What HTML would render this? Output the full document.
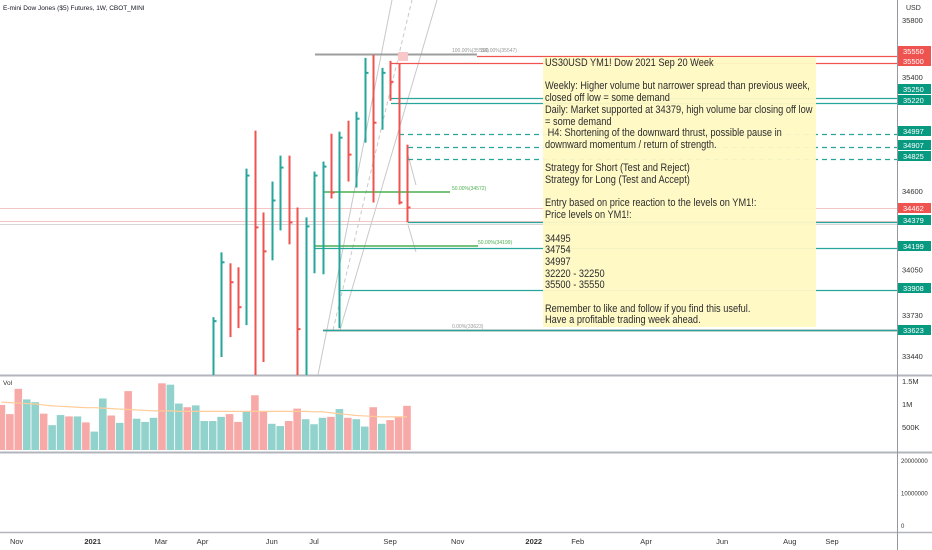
<!DOCTYPE html>
<html><head><meta charset="utf-8"><style>
html,body{margin:0;padding:0;background:#fff;width:932px;height:550px;overflow:hidden}
svg{display:block;font-family:"Liberation Sans",sans-serif}
#note{position:absolute;left:543px;top:57px;width:273px;height:270px;background:#fff9c4;opacity:.95}
#note div{position:absolute;left:2px;top:1px;transform:scaleX(0.84);transform-origin:0 0;font:11px/11.7px "Liberation Sans",sans-serif;color:#222;white-space:pre}
</style></head><body>
<svg id="c" width="932" height="550" viewBox="0 0 932 550"></svg>
<div id="note"><div>US30USD YM1! Dow 2021 Sep 20 Week

Weekly: Higher volume but narrower spread than previous week,
closed off low = some demand
Daily: Market supported at 34379, high volume bar closing off low
= some demand
 H4: Shortening of the downward thrust, possible pause in
downward momentum / return of strength.

Strategy for Short (Test and Reject)
Strategy for Long (Test and Accept)

Entry based on price reaction to the levels on YM1!:
Price levels on YM1!:

34495
34754
34997
32220 - 32250
35500 - 35550

Remember to like and follow if you find this useful.
Have a profitable trading week ahead.</div></div>
<script>
const opens=[33300,33690,34100,33960,33790,34700,34340,34180,34530,34760,34380,33630,34350,34700,34770,34590,34970,34860,35100,35430,35080,35430,35370,34520];
const highs=[33714,34169,34092,34064,34757,35023,34449,34666,34848,34848,34484,34414,34736,34806,35002,35016,35093,35156,35534,35555,35464,35513,35492,34925];
const lows=[33280,33434,33574,33637,33658,33280,33399,34113,34323,34225,33280,33280,34022,34015,34547,33637,34666,34624,34939,34519,35030,35233,34505,34379];
const closes=[33686,34099,33959,33784,34708,34344,34176,34533,34764,34379,33630,34351,34708,34771,34589,34974,34855,35107,35429,35079,35429,35366,34519,34484];
const vols=[0.98,0.78,1.33,1.10,1.04,0.79,0.54,0.76,0.73,0.73,0.60,0.40,1.12,0.75,0.59,1.28,0.68,0.61,0.70,1.45,1.42,1.01,0.93,0.97,0.63,0.63,0.72,0.78,0.61,0.83,1.19,0.83,0.57,0.52,0.63,0.90,0.67,0.56,0.70,0.72,0.89,0.70,0.67,0.51,0.93,0.57,0.65,0.71,0.96];
const volUp=[0,0,0,1,1,0,1,1,0,1,0,1,1,0,1,0,1,1,1,0,1,1,0,1,1,1,1,0,0,1,0,0,1,1,0,0,1,1,1,0,1,0,1,1,0,1,0,0,0];
const volMA=[1.04,1.03,1.02,1.01,1.00,0.98,0.96,0.95,0.94,0.93,0.92,0.92,0.91,0.90,0.89,0.88,0.87,0.86,0.85,0.85,0.85,0.84,0.84,0.84,0.84,0.84,0.84,0.84,0.84,0.84,0.84,0.84,0.84,0.84,0.84,0.84,0.84,0.83,0.83,0.81,0.79,0.77,0.75,0.74,0.73,0.72,0.72,0.72,0.72];
const priceTicks=[35800,35400,34600,34050,33730,33440];
const volTicks=[1.5,1.0,0.5];
const volTickLabels=["1.5M","1M","500K"];
const pane3Ticks=[20000000,10000000,0];
const timeLabels=["Nov","2021","Mar","Apr","Jun","Jul","Sep","Nov","2022","Feb","Apr","Jun","Aug","Sep"];
const timeWeeks=[-23.2,-14.2,-6.1,-1.2,7,12,21,29,38,43.2,51.3,60.3,68.3,73.3];
const levels=[35550,35500,35250,35220,34997,34907,34825,34379,34199,33908,33623];
const levelStart=[477,391,391,391,399,408,408,408,315,340,323];
const levelColor=["#ef5350","#ef5350","#26a69a","#26a69a","#26a69a","#26a69a","#26a69a","#26a69a","#26a69a","#26a69a","#26a69a"];
const levelDash=[0,0,0,0,1,1,1,0,0,0,0];
const tagPrices=[35550,35500,35250,35220,34997,34907,34825,34462,34379,34199,33908,33623];
const tagY=[51,61,89,100,131,145,156,208,220,246,288,330];
const tagRed=[1,1,0,0,0,0,0,1,0,0,0,0];

const svg=document.getElementById('c');const NS='http://www.w3.org/2000/svg';
function el(t,a,p){const e=document.createElementNS(NS,t);for(const k in a)e.setAttribute(k,a[k]);(p||svg).appendChild(e);return e;}
const yP=p=>20+(35800-p)/7.02;
const xW=i=>407-8.45*(48-i);
const yV=v=>450-v*46;
const TEAL="#26a69a",RED="#ef5350";
let e;
e=el('line',{x1:0,y1:375.5,x2:932,y2:375.5,stroke:'#b2b5be','stroke-width':2});

e=el('line',{x1:0,y1:452.5,x2:932,y2:452.5,stroke:'#b2b5be','stroke-width':2});

e=el('line',{x1:0,y1:532.5,x2:932,y2:532.5,stroke:'#b2b5be','stroke-width':1.5});

e=el('line',{x1:897.5,y1:0,x2:897.5,y2:550,stroke:'#9598a1','stroke-width':1});

[[208,'#f5c6c6'],[221,'#f5c6c6'],[224,'#d6d6d6']].forEach(a=>{e=el('line',{x1:0,y1:a[0]+.5,x2:897,y2:a[0]+.5,stroke:a[1],'stroke-width':1});
});
[[318,375,392,0,0],[333,330,412,0,1],[340,330,437,0,0]].forEach(a=>{e=el('line',{x1:a[0],y1:a[1],x2:a[2],y2:a[3],stroke:'#c8c8c8','stroke-width':1,'stroke-dasharray':a[4]?'4,3':'none'});
});
[[408,155,416,185],[408,225,416,252]].forEach(a=>{e=el('line',{x1:a[0],y1:a[1],x2:a[2],y2:a[3],stroke:'#c8c8c8','stroke-width':1});
});
e=el('line',{x1:315,y1:54.5,x2:477,y2:54.5,stroke:'#9e9e9e','stroke-width':2});
e=el('line',{x1:323,y1:330.5,x2:897,y2:330.5,stroke:'#9e9e9e','stroke-width':2});
e=el('line',{x1:323,y1:192,x2:450,y2:192,stroke:'#4caf50','stroke-width':1.5});
e=el('line',{x1:315,y1:246,x2:478,y2:246,stroke:'#4caf50','stroke-width':1.5});
e=el('rect',{x:398,y:52,width:10,height:9,fill:'#f8c8c8'});
[[452,52,'100.00%(35550)','#999'],[480,52,'100.00%(35547)','#999'],[452,190,'50.00%(34572)','#4caf50'],[478,244,'50.00%(34199)','#4caf50'],[452,328,'0.00%(33623)','#999']].forEach(a=>{
e=el('text',{x:a[0],y:a[1],fill:a[3],'font-size':5});e.textContent=a[2];});
levels.forEach((p,i)=>{const y=Math.round(yP(p))+.5;e=el('line',{x1:levelStart[i],y1:y,x2:897,y2:y,stroke:levelColor[i],'stroke-width':1.3,'stroke-dasharray':levelDash[i]?'5,4':'none'});
});
closes.forEach((c,i)=>{const x=Math.round(xW(25+i))+.5;const col=c>=opens[i]?TEAL:RED;
const g=el('g',{});
el('line',{x1:x,y1:yP(highs[i]),x2:x,y2:Math.min(375,yP(lows[i])),stroke:col,'stroke-width':2},g);
el('line',{x1:x,y1:yP(c),x2:x+3,y2:yP(c),stroke:col,'stroke-width':2},g);});
vols.forEach((v,i)=>{const x=xW(i);e=el('rect',{x:x-3.8,y:yV(v),width:7.6,height:450-yV(v),fill:volUp[i]?'#92d2cc':'#f7a9a7'});
});
e=el('polyline',{points:volMA.map((v,i)=>xW(i)+','+yV(v)).join(' '),fill:'none',stroke:'#ffcc99','stroke-width':1.2});

priceTicks.forEach(p=>{e=el('text',{x:902,y:yP(p)+3,'font-size':7.5,fill:'#333'});e.textContent=p;});
volTicks.forEach((v,i)=>{e=el('text',{x:902,y:yV(v)+3,'font-size':7.5,fill:'#333'});e.textContent=volTickLabels[i];});
pane3Ticks.forEach(v=>{const y=525-v/20000000*65;e=el('text',{x:901,y:y+3,'font-size':6,fill:'#333'});e.textContent=v;});
timeLabels.forEach((t,i)=>{const bold=t.length==4;e=el('text',{x:xW(timeWeeks[i]+25),y:544,'font-size':7.5,fill:'#333','text-anchor':'middle','font-weight':bold?'bold':'normal'});e.textContent=t;});
tagPrices.forEach((p,i)=>{const g=el('g',{});
el('rect',{x:898,y:tagY[i]-5,width:33,height:10,fill:tagRed[i]?RED:'#089981'},g);
const t=el('text',{x:903,y:tagY[i]+3,'font-size':7.5,fill:'#fff'},g);t.textContent=p;});
e=el('text',{x:3,y:10,'font-size':6.5,fill:'#131722'});e.textContent='E-mini Dow Jones ($5) Futures, 1W, CBOT_MINI';
e=el('text',{x:906,y:10,'font-size':7,fill:'#333'});e.textContent='USD';
e=el('text',{x:3,y:385,'font-size':6.5,fill:'#333'});e.textContent='Vol';
</script>
</body></html>
